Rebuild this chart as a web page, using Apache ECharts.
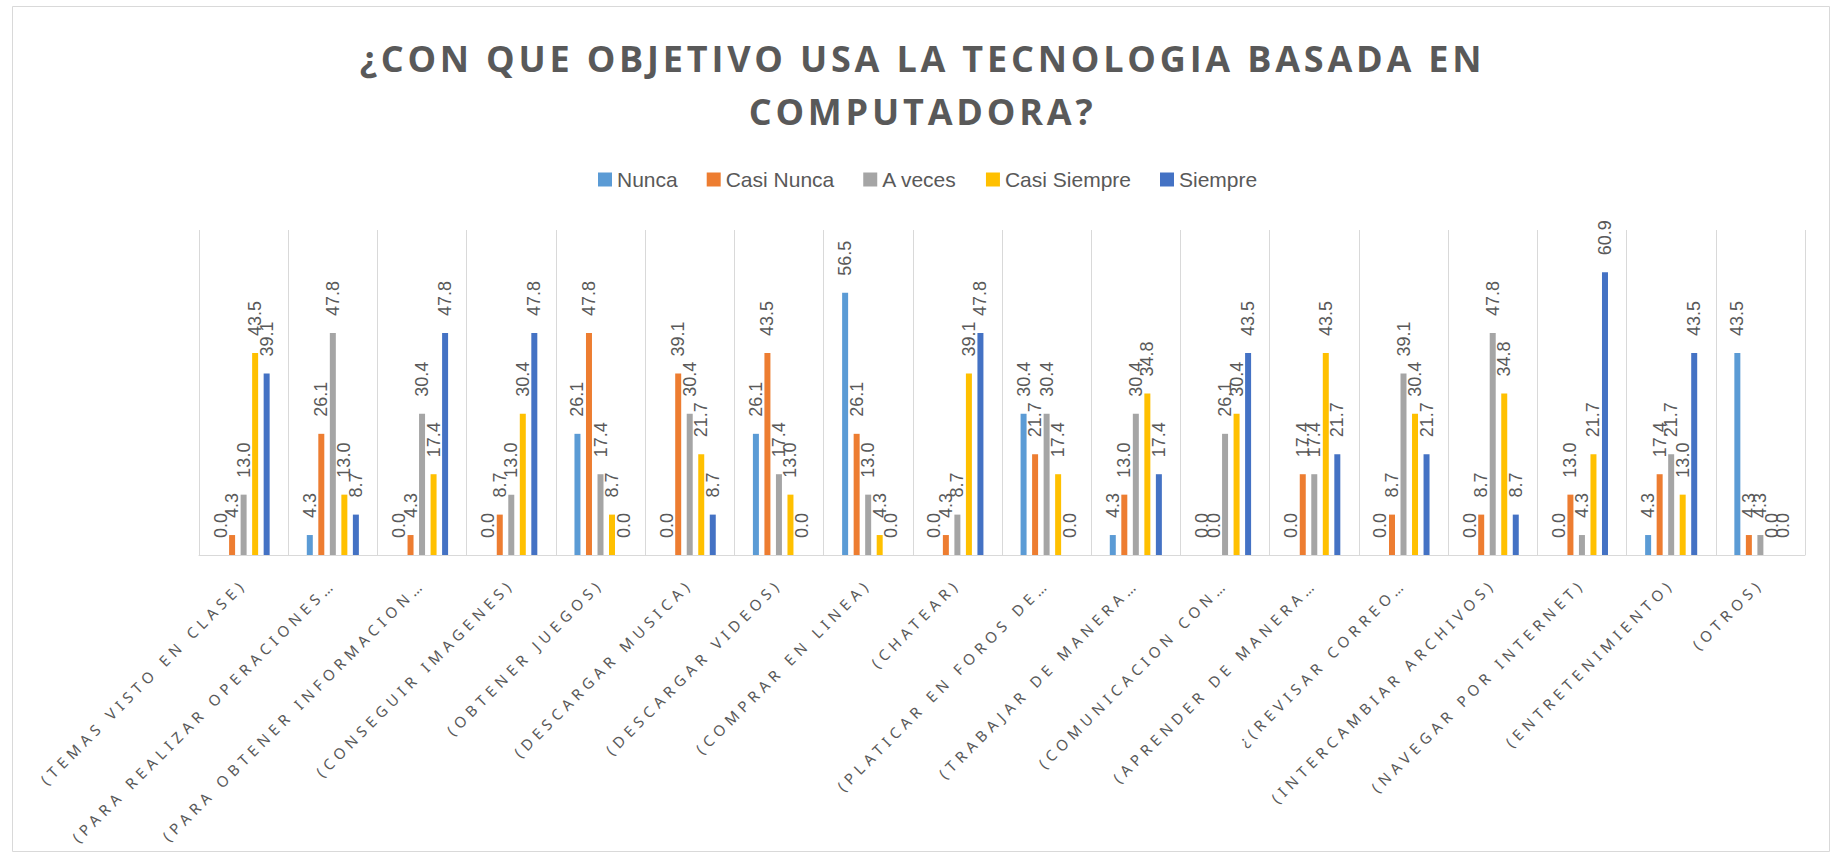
<!DOCTYPE html>
<html>
<head>
<meta charset="utf-8">
<title>¿Con que objetivo usa la tecnologia basada en computadora?</title>
<script src="https://cdn.jsdelivr.net/npm/echarts@6.0.0/dist/echarts.min.js"></script>
<style>
  html, body { margin: 0; padding: 0; background: #fff; }
  #main { width: 1835px; height: 858px; }
  /* espaciado de letras como en el original (titulo y etiquetas del eje) */
  #main text[style*="Open Sans"] { letter-spacing: 3.8px; }
  #main text[style*="Noto Sans"] { letter-spacing: 5px; }
</style>
</head>
<body>
<div id="main"></div>
<script>
// categorias (texto tal cual aparece, ya recortado)
var categorias = [
  '(TEMAS VISTO EN CLASE)',
  '(PARA REALIZAR OPERACIONES…',
  '(PARA OBTENER INFORMACION…',
  '(CONSEGUIR IMAGENES)',
  '(OBTENER JUEGOS)',
  '(DESCARGAR MUSICA)',
  '(DESCARGAR VIDEOS)',
  '(COMPRAR EN LINEA)',
  '(CHATEAR)',
  '(PLATICAR EN FOROS DE…',
  '(TRABAJAR DE MANERA…',
  '(COMUNICACION CON…',
  '(APRENDER DE MANERA…',
  '¿(REVISAR CORREO…',
  '(INTERCAMBIAR ARCHIVOS)',
  '(NAVEGAR POR INTERNET)',
  '(ENTRETENIMIENTO)',
  '(OTROS)'
]

// porcentajes por respuesta
var nunca = [0.0, 4.3, 0.0, 0.0, 26.1, 0.0, 26.1, 56.5, 0.0, 30.4, 4.3, 0.0, 0.0, 0.0, 0.0, 0.0, 4.3, 43.5]
var casiNunca = [4.3, 26.1, 4.3, 8.7, 47.8, 39.1, 43.5, 26.1, 4.3, 21.7, 13.0, 0.0, 17.4, 8.7, 8.7, 13.0, 17.4, 4.3]
var aVeces = [13.0, 47.8, 30.4, 13.0, 17.4, 30.4, 17.4, 13.0, 8.7, 30.4, 30.4, 26.1, 17.4, 39.1, 47.8, 4.3, 21.7, 4.3]
var casiSiempre = [43.5, 13.0, 17.4, 30.4, 8.7, 21.7, 13.0, 4.3, 39.1, 17.4, 34.8, 30.4, 43.5, 30.4, 34.8, 21.7, 13.0, 0.0]
var siempre = [39.1, 8.7, 47.8, 47.8, 0.0, 8.7, 0.0, 0.0, 47.8, 0.0, 17.4, 43.5, 21.7, 21.7, 8.7, 60.9, 43.5, 0.0]

var nombres = ['Nunca', 'Casi Nunca', 'A veces', 'Casi Siempre', 'Siempre']
var colores = ['#5B9BD5', '#ED7D31', '#A5A5A5', '#FFC000', '#4472C4']
var titulo = '¿CON QUE OBJETIVO USA LA TECNOLOGIA BASADA EN\nCOMPUTADORA?'

var datos = [nunca, casiNunca, aVeces, casiSiempre, siempre]

var series = nombres.map(function (nombre, i) {
  return {
    name: nombre,
    type: 'bar',
    data: datos[i],
    barWidth: 6,
    barGap: '92%',
    label: {
      show: true,
      position: 'top',
      rotate: 90,
      align: 'left',
      verticalAlign: 'middle',
      distance: 17,
      fontFamily: 'Liberation Sans',
      fontSize: 18,
      color: '#595959',
      formatter: function (p) {
        return p.value.toFixed(1)
      }
    }
  }
})

var myChart = echarts.init(document.getElementById('main'), null, { renderer: 'svg' })
myChart.setOption({
  animation: false,
  color: colores,
  title: {
    text: titulo,
    left: '50%',
    top: 27,
    textAlign: 'center',
    textStyle: {
      fontFamily: 'Open Sans',
      fontWeight: 'bold',
      fontSize: 36,
      lineHeight: 53,
      color: '#595959'
    }
  },
  legend: {
    data: nombres,
    left: 593,
    top: 164,
    icon: 'rect',
    itemWidth: 14,
    itemHeight: 14,
    itemGap: 29,
    textStyle: {
      fontFamily: 'Liberation Sans',
      fontSize: 21,
      color: '#595959'
    }
  },
  grid: {
    left: 199,
    right: 30,
    top: 230,
    bottom: 303
  },
  xAxis: {
    type: 'category',
    data: categorias,
    axisLine: { lineStyle: { color: '#d9d9d9' } },
    axisTick: { show: false },
    splitLine: {
      show: true,
      interval: 0,
      lineStyle: { color: '#d9d9d9' }
    },
    axisLabel: {
      interval: 0,
      rotate: 45,
      margin: 26,
      fontFamily: 'Noto Sans',
      fontSize: 15,
      color: '#595959'
    }
  },
  yAxis: {
    type: 'value',
    min: 0,
    max: 70,
    show: false
  },
  // borde del area del grafico
  graphic: [{
    type: 'rect',
    silent: true,
    z: -1,
    shape: { x: 12.5, y: 6.5, width: 1817, height: 845 },
    style: { fill: 'none', stroke: '#d9d9d9', lineWidth: 1 }
  }],
  series: series
})
</script>
</body>
</html>
